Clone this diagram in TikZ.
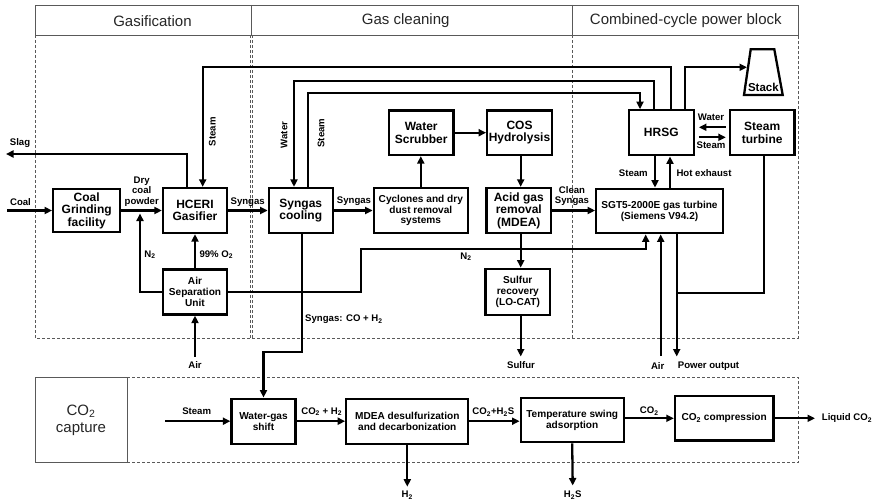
\documentclass[tikz,border=0pt]{standalone}
\usepackage{fontspec}
\setmainfont{Liberation Sans}
\usetikzlibrary{arrows.meta,calc}
\begin{document}
\begin{tikzpicture}[x=1pt,y=-1pt,
  box/.style={draw, line width=2.3pt, inner sep=0pt, align=center, font=\bfseries\fontsize{12}{12.5}\selectfont},
  sbox/.style={box, font=\bfseries\fontsize{10.1}{10.8}\selectfont},
  lbl/.style={font=\bfseries\fontsize{9.6}{10.6}\selectfont, inner sep=0pt, align=center},
  flow/.style={line width=2.3pt, -{Triangle[length=7.5pt,width=7pt]}},
  pipe/.style={line width=2.3pt},
  hdr/.style={draw=black!65, line width=0.9pt},
  region/.style={draw=black!65, line width=0.8pt, dash pattern=on 3pt off 2pt},
  head/.style={font=\fontsize{15}{17}\selectfont, text=black!85, inner sep=0pt, align=center}
]
\useasboundingbox (0,0) rectangle (880,503);
\fill[white] (0,0) rectangle (880,503);

% frames
\draw[hdr] (35,5) rectangle (798,35);
\draw[hdr] (251,5) -- (251,35);
\draw[hdr] (572,5) -- (572,35);
\draw[region] (35,35) -- (35,338) -- (798,338) -- (798,35);
\draw[region] (250,35) -- (250,338);
\draw[region] (252,35) -- (252,338);
\draw[region] (572,35) -- (572,338);
\draw[hdr] (35,377) rectangle (127,462.5);
\draw[region] (127,377) -- (798,377) -- (798,462.5) -- (127,462.5);

\node[head] (h1) at (152.5,20.7) {Gasification};
\node[head] (h2) at (405.7,20.7) {Gas cleaning};
\node[head] (h3) at (685.8,20.7) {Combined-cycle power block};
\node[head] (h4) at (81,420) {CO\textsubscript{2}\\capture};

% boxes
\node[box, minimum width=67pt, minimum height=43pt] (cg) at (86.7,210.5) {Coal\\Grinding\\facility};
\node[box, minimum width=64pt, minimum height=45pt] (gas) at (195,210.5) {HCERI\\Gasifier};
\node[sbox, minimum width=64pt, minimum height=45pt] (asu) at (195,292) {Air\\Separation\\Unit};
\node[box, minimum width=64pt, minimum height=45pt] (sc) at (300.8,210.5) {Syngas\\cooling};
\node[sbox, minimum width=94pt, minimum height=45pt] (cyc) at (420.8,210.5) {Cyclones and dry\\dust removal\\systems};
\node[box, minimum width=64.5pt, minimum height=44.5pt] (ws) at (421.2,132.7) {Water\\Scrubber};
\node[box, minimum width=64.5pt, minimum height=44.5pt] (cos) at (519.5,132.7) {COS\\Hydrolysis};
\node[box, minimum width=64.5pt, minimum height=45pt] (agr) at (518.8,210.5) {Acid gas\\removal\\(MDEA)};
\node[sbox, minimum width=64.5pt, minimum height=46pt] (sr) at (517.8,291.8) {Sulfur\\recovery\\(LO-CAT)};
\node[box, minimum width=65pt, minimum height=45pt] (hrsg) at (661.3,132.8) {HRSG};
\node[box, minimum width=64.5pt, minimum height=45pt] (st) at (762.2,132.8) {Steam\\turbine};
\node[sbox, minimum width=126.5pt, minimum height=44.5pt] (gt) at (659.5,211) {SGT5-2000E gas turbine\\(Siemens V94.2)};

\draw[pipe] (750.7,49.3) -- (774.3,49.3) -- (782.7,95) -- (744,95) -- cycle;
\node[font=\bfseries\fontsize{11.5}{12.3}\selectfont, inner sep=0pt] (stack) at (763.4,87) {Stack};
\coordinate (stackin) at (747,67.3);

\node[sbox, minimum width=64pt, minimum height=45pt] (wgs) at (263.5,421.2) {Water-gas\\shift};
\node[sbox, minimum width=122pt, minimum height=45pt] (mdea) at (407.3,421.2) {MDEA desulfurization\\and decarbonization};
\node[sbox, minimum width=103pt, minimum height=44.5pt] (tsa) at (572.2,420) {Temperature swing\\adsorption};
\node[sbox, minimum width=98.5pt, minimum height=44.5pt] (co2c) at (724.2,418.3) {CO\textsubscript{2} compression};

% helper coordinates
\coordinate (coal) at (7,210.5);
\coordinate (slag) at (6,154);
\coordinate (n2tip) at (140,213.5);
\coordinate (airA) at (195,356.5);
\coordinate (s1) at (202.7,66.7);
\coordinate (w1) at (294,81);
\coordinate (s2) at (640,93.3);
\coordinate (x655) at (655,0);
\coordinate (x670) at (670,0);
\coordinate (n2a) at (360.7,249);
\coordinate (n2b) at (645.7,249);
\coordinate (airB) at (660.7,356);
\coordinate (pwr) at (676.7,356.5);
\coordinate (pj) at (676.7,293.3);
\coordinate (sg1) at (301.7,352.3);
\coordinate (sulf) at (520.7,356.5);
\coordinate (x520) at (520.7,0);
\coordinate (stm) at (165,421.2);
\coordinate (h2) at (407.3,486.7);
\coordinate (h2s) at (572.7,485.5);
\coordinate (liq) at (815,418.3);

% connectors upper
\draw[flow] (coal) -- (cg.west);
\draw[flow] (cg.east) -- (gas.west);
\draw[flow] (gas.east) -- (sc.west);
\draw[flow] (sc.east) -- (cyc.west);
\draw[flow] (cyc.north) -- (cyc.north |- ws.south);
\draw[flow] (ws.east) -- (cos.west);
\draw[flow] (cos.south -| x520) -- (agr.north -| x520);
\draw[flow] (agr.south -| x520) -- (sr.north -| x520);
\draw[flow] (sr.south -| x520) -- (sulf);
\draw[flow] (agr.east) -- (agr.east -| gt.west);
\draw[flow] (asu.north) -- (gas.south);
\draw[flow] (asu.west) -| (n2tip);
\draw[flow] (airA) -- (asu.south);
\draw[flow] ([xshift=-8.3pt]gas.north) |- (slag);
\draw[flow] ([xshift=9.4pt]hrsg.north) |- (s1) -- (s1 |- gas.north);
\draw[flow] ([xshift=-7pt]hrsg.north) |- (w1) -- (w1 |- sc.north);
\draw[flow] ([xshift=6.9pt]sc.north) |- (s2) -- (s2 |- hrsg.north);
\draw[flow] ([xshift=24pt]hrsg.north) |- (stackin);
\draw[flow, shorten <=3pt, shorten >=4pt] ([yshift=5.5pt]st.west) -- ([yshift=5.5pt]hrsg.east);
\draw[flow, shorten <=4pt, shorten >=3pt] ([yshift=-4.5pt]hrsg.east) -- ([yshift=-4.5pt]st.west);
\draw[flow] (hrsg.south -| x655) -- (gt.north -| x655);
\draw[flow] (gt.north -| x670) -- (hrsg.south -| x670);
\draw[flow] (asu.east) -| (n2a) -- (n2b) -- (n2b |- gt.south);
\draw[flow] (airB) -- (airB |- gt.south);
\draw[flow] (gt.south -| pwr) -- (pwr);
\draw[pipe] ([xshift=1.8pt]st.south) |- (pj);
\draw[flow] ([xshift=0.9pt]sc.south) |- (wgs.north |- sg1) -- (wgs.north);

% connectors lower
\draw[flow] (stm) -- (wgs.west);
\draw[flow] (wgs.east) -- (mdea.west);
\draw[flow] (mdea.south) -- (h2);
\draw[flow] (mdea.east) -- (mdea.east -| tsa.west);
\draw[flow] (tsa.south) -- (h2s);
\draw[flow] (co2c.west -| tsa.east) -- (co2c.west);
\draw[flow] (co2c.east) -- (liq);

% labels
\node[lbl] (l1) at (20.5,202.3) {Coal};
\node[lbl] (l2) at (20,143.3) {Slag};
\node[lbl] (l3) at (141.7,191.5) {Dry\\coal\\powder};
\node[lbl] (l4) at (247.7,201.7) {Syngas};
\node[lbl] (l5) at (354,201.3) {Syngas};
\node[lbl] (l6) at (150,254.5) {N\textsubscript{2}};
\node[lbl] (l7) at (216.3,254.5) {99\% O\textsubscript{2}};
\node[lbl] (l8) at (195,365.5) {Air};
\node[lbl, rotate=90] (l9) at (212.3,131.7) {Steam};
\node[lbl, rotate=90] (l10) at (284,135) {Water};
\node[lbl, rotate=90] (l11) at (321,133) {Steam};
\node[lbl] (l12) at (711,117.7) {Water};
\node[lbl] (l13) at (711,145) {Steam};
\node[lbl] (l14) at (633.3,172.7) {Steam};
\node[lbl] (l15) at (704,172.7) {Hot exhaust};
\node[lbl] (l16) at (572,196) {Clean\\Syngas};
\node[lbl] (l17) at (466,256.7) {N\textsubscript{2}};
\node[lbl] (l18) at (521,365.5) {Sulfur};
\node[lbl] (l19) at (657.7,366) {Air};
\node[lbl] (l20) at (708.5,366) {Power output};
\node[lbl, anchor=west] (l21) at (305,319.5) {Syngas: CO + H\textsubscript{2}};
\node[lbl] (l22) at (196.7,411) {Steam};
\node[lbl] (l23) at (321.7,411.7) {CO\textsubscript{2} + H\textsubscript{2}};
\node[lbl] (l24) at (407.3,495) {H\textsubscript{2}};
\node[lbl] (l25) at (493.3,412.3) {CO\textsubscript{2}+H\textsubscript{2}S};
\node[lbl] (l26) at (572.7,495) {H\textsubscript{2}S};
\node[lbl] (l27) at (649.3,411) {CO\textsubscript{2}};
\node[lbl, anchor=west] (l28) at (821.7,418.3) {Liquid CO\textsubscript{2}};
\end{tikzpicture}
\end{document}
